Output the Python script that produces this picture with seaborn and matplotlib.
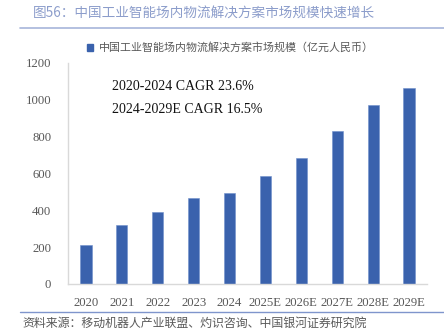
import matplotlib
matplotlib.use("Agg")
import matplotlib.pyplot as plt
import seaborn as sns
import pandas as pd
from matplotlib.lines import Line2D
from matplotlib.patches import Patch

years = ["2020", "2021", "2022", "2023", "2024", "2025E", "2026E", "2027E", "2028E", "2029E"]
values = [210, 321, 388, 464, 494, 583, 681, 832, 973, 1063]
yticks = [0, 200, 400, 600, 800, 1000, 1200]
title = "图56：中国工业智能场内物流解决方案市场规模快速增长"
legend_label = "中国工业智能场内物流解决方案市场规模（亿元人民币）"
notes = ["2020-2024 CAGR 23.6%", "2024-2029E CAGR 16.5%"]
source = "资料来源：移动机器人产业联盟、灼识咨询、中国银河证券研究院"

sns.set_theme(style="white")
plt.rcParams['font.family'] = ['Noto Sans CJK SC', 'DejaVu Sans']

bar_color = "#3A62AD"
df = pd.DataFrame({"year": years, "value": values})

fig = plt.figure(figsize=(4.44, 3.30), dpi=100)
ax = fig.add_axes([68/444, (330-284)/330, (427-68)/444, (284-62.7)/330])
sns.barplot(data=df, x="year", y="value", color=bar_color, width=0.31,
            saturation=1, ax=ax, edgecolor="#6F8FCB", linewidth=0.4)
ax.set_xlim(-0.5, 9.5)
ax.set_ylim(0, 1200)
ax.set_yticks(yticks)
ax.set_xlabel("")
ax.set_ylabel("")
serif = ['Liberation Serif', 'DejaVu Serif']
for lab in ax.get_xticklabels() + ax.get_yticklabels():
    lab.set_family(serif)
    lab.set_fontsize(9.2)
    lab.set_color("#595959")
ax.tick_params(axis='both', length=0, pad=9)
ax.tick_params(axis='y', pad=12)
for s in ["top", "right"]:
    ax.spines[s].set_visible(False)
for s in ["left", "bottom"]:
    ax.spines[s].set_color("#D9D9D9")
    ax.spines[s].set_linewidth(1.0)

for i, t in enumerate(notes):
    fig.text(112/444, 1 - (87 + i*23)/330, t, family=serif, fontsize=10,
             color="#111111", va="center", ha="left")

# legend
fig.patches.append(plt.Rectangle((87/444, 1 - 51/330), 6/444, 7/330,
                                 transform=fig.transFigure, color=bar_color))
fig.text(99/444, 1 - 47/330, legend_label, fontsize=7.9, color="#595959",
         va="center", ha="left")

# title and lines
fig.text(33/444, 1 - 14/330, title, fontsize=9.8, color="#8C9DCB",
         va="center", ha="left")
fig.add_artist(Line2D([20/444, 1.0], [1 - 28/330, 1 - 28/330],
                      transform=fig.transFigure, color="#A7B5DA", lw=1.2))
fig.add_artist(Line2D([20/444, 1.0], [1 - 312/330, 1 - 312/330],
                      transform=fig.transFigure, color="#7F95CC", lw=1.0))
fig.text(22/444, 1 - 323/330, source, fontsize=8.6, color="#595959",
         va="center", ha="left", style="italic")

fig.savefig("out.png", dpi=100)
